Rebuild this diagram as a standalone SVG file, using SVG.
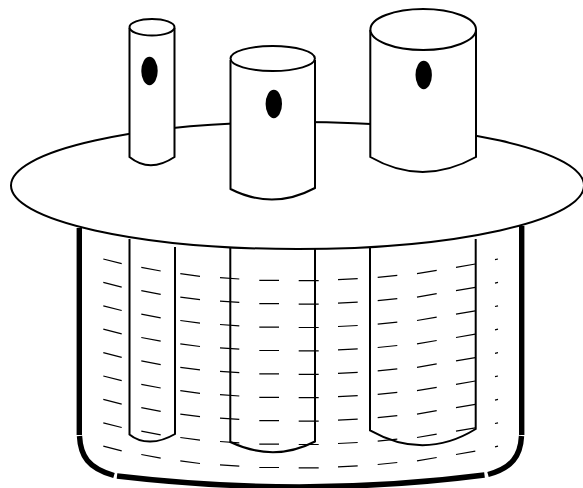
<svg xmlns="http://www.w3.org/2000/svg" width="583" height="488" viewBox="0 0 583 488">
<style>
.l{fill:none;stroke:#000;stroke-width:2}
.c{fill:#fff;stroke:#000;stroke-width:2}
.d{fill:none;stroke:#000;stroke-width:1.2}
.w{fill:none;stroke:#000;stroke-width:5.4}
</style>
<defs>
<path id="row" class="d" d="M103.3 259L121.7 263.7M141.3 267.3L160.7 271M180.3 273.7L200 276.3M220 277.7L239.3 279M259.3 280.3H279M298.7 280.7H318.7M338 279.7L357.7 278.7M377.7 277.3L397.3 275.3M417 273.7L436.7 270.3M456 267.3L475.3 264M495 259.7L498 259"/>
</defs>
<rect width="583" height="488" fill="#fff"/>
<g id="vessel">
<path class="w" d="M79.3 228V435"/>
<path class="w" d="M521.7 226V435"/>
<path class="w" d="M79.5 436C80.5 456 88 468 114 475.5"/>
<path class="w" d="M117 476C240 490.5 365 490.5 484.5 475"/>
<path class="w" d="M488 474.5C512 468 520.5 456 521.5 436"/>
</g>
<g id="liquid">
<use href="#row"/>
<use href="#row" y="23.4"/>
<use href="#row" y="46.8"/>
<use href="#row" y="70.2"/>
<use href="#row" y="93.6"/>
<use href="#row" y="117"/>
<use href="#row" y="140.4"/>
<use href="#row" y="163.8"/>
<use href="#row" y="187.2"/>
</g>
<g id="tubes-below">
<path class="l" d="M129.5 239V434.5C141 444 158 444 175 434V247"/>
<path class="l" d="M230.3 248V442C258 455 287 456 315 441.5V249"/>
<path class="l" d="M370 247V430.3C405 450 440 451 475.7 429V239"/>
</g>
<ellipse id="plate" class="c" cx="297.5" cy="185.5" rx="286.5" ry="63.5"/>
<g id="tube-small">
<path class="c" d="M129.5 28V157C143 168 158 168 174.5 157V28"/>
<ellipse class="c" cx="152" cy="27.3" rx="22.5" ry="8.3"/>
<ellipse cx="149.5" cy="71" rx="8.2" ry="14.2"/>
</g>
<g id="tube-medium">
<path class="c" d="M230.5 60V189C258 203 287 203 315 188V60"/>
<ellipse class="c" cx="272.7" cy="58.5" rx="42.2" ry="12.5"/>
<ellipse cx="273.8" cy="104" rx="8.2" ry="14.2"/>
</g>
<g id="tube-large">
<path class="c" d="M370.3 30V157C405 177 440 177 476 157V30"/>
<ellipse class="c" cx="423.2" cy="29.5" rx="52.8" ry="20.5"/>
<ellipse cx="423.7" cy="75" rx="8.2" ry="14.2"/>
</g>
</svg>
